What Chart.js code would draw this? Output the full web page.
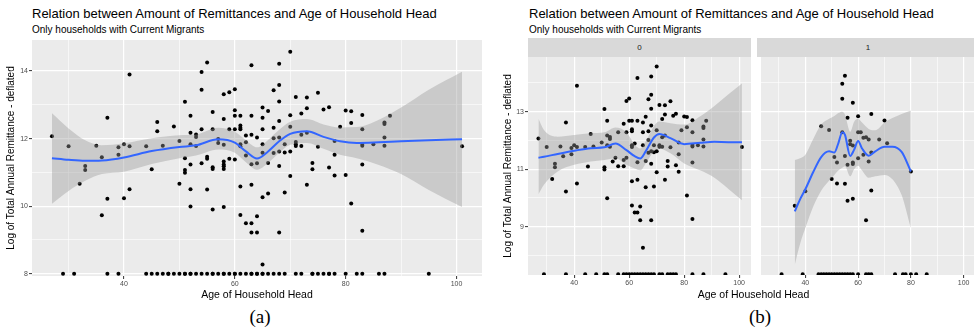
<!DOCTYPE html>
<html>
<head>
<meta charset="utf-8">
<script src="https://cdn.jsdelivr.net/npm/chart.js@4.4.1/dist/chart.umd.min.js"></script>
<style>
  html, body { margin: 0; padding: 0; overflow: hidden; background: #fff; }
  body { position: relative; width: 974px; height: 333px; font-family: "Liberation Sans", Arial, sans-serif; }
  .abs { position: absolute; white-space: nowrap; color: #000; }
  .title { font-size: 13px; line-height: 13px; }
  .subtitle { font-size: 10px; line-height: 10px; }
  .strip { background: #D9D9D9; font-size: 8px; color: #1A1A1A; display: flex; align-items: center; justify-content: center; }
  .xlab { font-size: 10.5px; line-height: 12px; text-align: center; }
  .caption { font-family: "Liberation Serif", serif; font-size: 19px; line-height: 20px; text-align: center; }
  canvas { position: absolute; }
</style>
</head>
<body>
<div class="abs title" style="left:32px; top:7px">Relation between Amount of Remittances and Age of Household Head</div>
<div class="abs subtitle" style="left:32px; top:25px">Only households with Current Migrants</div>
<div class="abs title" style="left:529px; top:7px">Relation between Amount of Remittances and Age of Household Head</div>
<div class="abs subtitle" style="left:529px; top:25px">Only households with Current Migrants</div>

<div class="abs strip" style="left:528px; top:38px; width:223px; height:19px">0</div>
<div class="abs strip" style="left:757px; top:38px; width:222px; height:19px">1</div>

<canvas id="chartA" width="490" height="258" style="left:0px; top:32px"></canvas>
<canvas id="chartB0" width="259" height="240" style="left:497px; top:49px"></canvas>
<canvas id="chartB1" width="222" height="240" style="left:757px; top:49px"></canvas>

<div class="abs xlab" style="left:32px; top:288px; width:450px">Age of Household Head</div>
<div class="abs xlab" style="left:528px; top:288px; width:451px">Age of Household Head</div>
<div class="abs caption" style="left:220px; top:307px; width:80px">(a)</div>
<div class="abs caption" style="left:720px; top:307px; width:80px">(b)</div>

<script>
// Households by facet group: [age of head, log of total annual remittance]
const points0 = [
    [27, 12.07], [30, 11.77], [32, 10.66], [33, 11.19], [33, 11.07], [35, 11.79], [36, 11.45],
    [37, 12.62], [37, 10.22], [39, 11.74], [39, 11.52], [40, 11.83], [41, 13.90], [41, 11.77],
    [41, 10.50], [44, 11.77], [45, 11.09], [46, 12.22], [47, 11.79], [50, 11.93], [51, 13.09],
    [51, 11.07], [51, 10.99], [52, 12.68], [52, 12.17], [52, 11.83], [52, 9.99], [53, 12.12],
    [53, 12.05], [53, 11.78], [54, 11.27], [55, 11.40], [56, 12.28], [56, 11.10], [58, 12.58],
    [58, 11.32], [58, 11.10], [59, 13.37], [59, 12.28], [59, 11.40], [60, 13.46], [60, 12.68],
    [61, 12.68], [61, 12.39], [61, 12.32], [61, 11.83], [61, 11.77], [61, 10.58], [61, 9.74],
    [62, 11.89], [62, 9.49], [63, 14.17], [63, 12.68], [63, 11.24], [63, 10.63], [63, 9.49],
    [64, 9.70], [64, 9.22], [65, 12.62], [65, 12.28], [65, 11.83], [65, 8.27], [66, 12.82],
    [66, 11.28], [66, 10.37], [67, 13.43], [67, 12.32], [67, 12.01], [67, 11.57], [68, 14.22],
    [68, 13.59], [68, 13.10], [68, 12.52], [68, 11.62], [68, 11.19], [68, 9.22], [69, 11.83],
    [69, 11.59], [69, 10.40], [70, 14.57], [70, 12.35], [70, 11.62], [70, 10.89], [71, 13.23],
    [71, 11.83], [71, 11.78], [72, 12.74], [72, 12.11], [72, 11.78], [73, 13.22], [73, 12.90],
    [73, 12.17], [73, 10.63], [74, 11.28], [74, 11.09], [75, 13.36], [75, 11.76], [76, 12.86],
    [77, 12.93], [77, 11.14], [78, 11.93], [78, 11.52], [78, 10.91], [79, 12.35], [80, 12.83],
    [81, 12.81], [81, 12.46], [81, 10.08], [83, 12.70], [83, 12.28], [83, 11.84], [83, 11.79],
    [83, 11.23], [83, 9.27], [85, 11.83], [87, 12.48], [87, 12.43], [87, 12.03], [87, 11.79],
    [88, 12.68], [101, 11.77]
];
const points1 = [
    [36, 9.73], [40, 10.23], [46, 12.49], [49, 12.36], [50, 10.66], [51, 11.42], [52, 11.23],
    [52, 10.50], [54, 13.97], [54, 13.45], [54, 12.28], [55, 14.25], [55, 11.46], [55, 10.49],
    [56, 12.79], [56, 11.15], [56, 9.90], [57, 11.99], [57, 11.87], [58, 13.31], [58, 11.82],
    [58, 11.23], [58, 11.18], [58, 9.97], [60, 12.84], [60, 12.28], [60, 11.38], [61, 12.28],
    [62, 12.09], [62, 11.50], [63, 12.11], [63, 9.22], [64, 12.03], [64, 11.27], [65, 12.92],
    [65, 11.58], [65, 10.26], [68, 12.03], [70, 12.69], [71, 11.90], [80, 10.92]
];

// Households drawn on the bottom edge of the panel
const floorAge0 = [29, 37, 44, 48, 51, 52, 56, 58, 59, 60, 61, 62, 63, 64, 65, 66, 67, 68, 69, 71, 72, 74, 75, 76, 77, 83, 87, 95];
const floorAge1 = [31, 39, 45, 46, 47, 48, 49, 50, 51, 52, 53, 54, 55, 56, 57, 58, 60, 63, 64, 65, 74, 77, 78, 80, 82, 86];
const floorA = 8;
const floorB = 7.35;

// Loess fit and confidence band, panel (a)
const smoothAgeA = [27, 30, 33, 36, 40, 45, 50, 53, 57, 60, 62, 64, 66, 68, 70, 73, 76, 79, 82, 86, 90, 95, 101];
const smoothFitA = [11.42, 11.37, 11.34, 11.35, 11.44, 11.63, 11.75, 11.80, 11.98, 11.88, 11.62, 11.41, 11.62, 11.92, 12.14, 12.22, 12.05, 11.92, 11.87, 11.89, 11.92, 11.95, 11.98];
const smoothLowA = [10.07, 10.45, 10.75, 10.95, 11.02, 11.25, 11.42, 11.50, 11.68, 11.58, 11.30, 11.08, 11.28, 11.58, 11.82, 11.87, 11.70, 11.52, 11.42, 11.22, 10.95, 10.48, 9.97];
const smoothHighA = [12.75, 12.30, 11.95, 11.80, 11.86, 12.01, 12.10, 12.12, 12.32, 12.20, 11.95, 11.74, 11.96, 12.26, 12.50, 12.58, 12.42, 12.33, 12.34, 12.56, 12.92, 13.45, 13.98];

// Loess fit and band, facet 0
const smoothAge0 = [27, 29, 34, 40, 46, 51, 55, 59, 62, 64, 66, 69, 71, 75, 80, 86, 91, 96, 101];
const smoothFit0 = [11.40, 11.43, 11.53, 11.64, 11.73, 11.76, 11.89, 11.66, 11.45, 11.37, 11.62, 12.10, 12.22, 12.08, 11.87, 11.92, 11.95, 11.94, 11.94];
const smoothLow0 = [10.13, 10.46, 10.92, 11.15, 11.27, 11.32, 11.38, 11.15, 11.02, 10.96, 11.20, 11.62, 11.72, 11.55, 11.20, 10.95, 10.70, 10.32, 9.92];
const smoothHigh0 = [12.75, 12.36, 12.13, 12.19, 12.25, 12.28, 12.45, 12.28, 11.85, 11.72, 11.96, 12.50, 12.66, 12.60, 12.55, 12.85, 13.20, 13.60, 13.98];

// Loess fit and band, facet 1
const smoothAge1 = [36, 38, 40, 43, 46, 49, 51, 52.5, 54, 55, 57, 58.5, 60, 61.5, 64, 66.5, 70, 73, 76.5, 80];
const smoothFit1 = [9.53, 9.95, 10.30, 10.90, 11.42, 11.62, 11.58, 11.90, 12.28, 12.20, 11.46, 11.68, 11.98, 11.72, 11.47, 11.62, 11.78, 11.78, 11.60, 10.92];
const smoothLow1 = [7.68, 8.40, 8.95, 9.70, 10.25, 10.60, 10.80, 10.95, 11.05, 11.10, 10.75, 11.00, 11.12, 10.95, 10.70, 10.75, 10.80, 10.65, 10.10, 8.95];
const smoothHigh1 = [11.32, 11.38, 11.50, 12.05, 12.55, 12.75, 12.85, 12.95, 13.00, 12.90, 12.30, 12.65, 12.75, 12.62, 12.40, 12.35, 12.62, 12.78, 12.92, 13.04];

const FONT = '"Liberation Sans", Arial, sans-serif';
const yTitle = 'Log of Total Annual Remittance - deflated';

function toXY(pairs) {
    return pairs.map(p => ({ x: p[0], y: p[1] }));
}
function floorXY(ages, y) {
    return ages.map(a => ({ x: a, y: y }));
}
function curveXY(ages, vals) {
    return ages.map((a, i) => ({ x: a, y: vals[i] }));
}

// grey ggplot panel behind the grid
const panelBg = {
    id: 'panelBg',
    beforeDraw(chart) {
        const { ctx, chartArea } = chart;
        ctx.save();
        ctx.fillStyle = '#EBEBEB';
        ctx.fillRect(chartArea.left, chartArea.top, chartArea.right - chartArea.left, chartArea.bottom - chartArea.top);
        ctx.restore();
    }
};

function makePanel(id, cfg) {
    const isMajorX = v => Math.round(v) % 20 === 0;
    const isMajorY = v => Math.abs(Math.round(v) % 2) === cfg.yMajorRem;

    new Chart(document.getElementById(id), {
        type: 'scatter',
        data: {
            datasets: [
                {
                    data: cfg.points,
                    pointRadius: 2,
                    pointBackgroundColor: '#000000',
                    pointBorderWidth: 0,
                    order: 3,
                    clip: 0
                },
                {
                    data: curveXY(cfg.sAge, cfg.sLow),
                    showLine: true,
                    pointRadius: 0,
                    borderWidth: 0,
                    borderColor: 'rgba(0,0,0,0)',
                    cubicInterpolationMode: 'monotone',
                    fill: false,
                    order: 2,
                    clip: 0
                },
                {
                    data: curveXY(cfg.sAge, cfg.sHigh),
                    showLine: true,
                    pointRadius: 0,
                    borderWidth: 0,
                    borderColor: 'rgba(0,0,0,0)',
                    backgroundColor: 'rgba(153,153,153,0.4)',
                    cubicInterpolationMode: 'monotone',
                    fill: '-1',
                    order: 1,
                    clip: 0
                },
                {
                    data: curveXY(cfg.sAge, cfg.sFit),
                    showLine: true,
                    pointRadius: 0,
                    borderColor: '#3366FF',
                    borderWidth: 2,
                    cubicInterpolationMode: 'monotone',
                    fill: false,
                    order: 0,
                    clip: 0
                }
            ]
        },
        options: {
            responsive: false,
            animation: false,
            devicePixelRatio: 1,
            layout: { padding: { top: 8, right: cfg.padRight, bottom: 0, left: 0 } },
            plugins: { legend: { display: false }, tooltip: { enabled: false } },
            scales: {
                x: {
                    type: 'linear',
                    min: cfg.xMin,
                    max: cfg.xMax,
                    afterFit: s => { s.height = 14; },
                    border: { display: false },
                    grid: {
                        color: '#FFFFFF',
                        lineWidth: c => (c.tick && isMajorX(c.tick.value) ? 1.2 : 0.6),
                        tickColor: c => (c.tick && isMajorX(c.tick.value) ? '#333333' : 'rgba(0,0,0,0)'),
                        tickLength: 3,
                        tickWidth: 1
                    },
                    ticks: {
                        stepSize: 10,
                        includeBounds: false,
                        autoSkip: false,
                        maxRotation: 0,
                        padding: 1,
                        color: '#4D4D4D',
                        font: { family: FONT, size: 7 },
                        callback: v => (isMajorX(v) ? v : '')
                    }
                },
                y: {
                    type: 'linear',
                    min: cfg.yMin,
                    max: cfg.yMax,
                    afterFit: s => { s.width = cfg.yWidth; },
                    border: { display: false },
                    title: {
                        display: cfg.showY,
                        text: yTitle,
                        color: '#000000',
                        font: { family: FONT, size: 10 },
                        padding: { top: 5, bottom: 0 }
                    },
                    grid: {
                        color: '#FFFFFF',
                        lineWidth: c => (c.tick && isMajorY(c.tick.value) ? 1.2 : 0.6),
                        tickColor: c => (c.tick && isMajorY(c.tick.value) ? '#333333' : 'rgba(0,0,0,0)'),
                        drawTicks: cfg.showY,
                        tickLength: 3,
                        tickWidth: 1
                    },
                    ticks: {
                        display: cfg.showY,
                        stepSize: 1,
                        includeBounds: false,
                        autoSkip: false,
                        padding: 1,
                        color: '#4D4D4D',
                        font: { family: FONT, size: 7 },
                        callback: v => (isMajorY(v) ? v : '')
                    }
                }
            }
        },
        plugins: [panelBg]
    });
}

document.addEventListener('DOMContentLoaded', function() {
    // (a) all households pooled
    const pointsA = toXY(points0.concat(points1))
        .concat(floorXY(floorAge0.concat(floorAge1), floorA));
    makePanel('chartA', {
        points: pointsA,
        sAge: smoothAgeA, sFit: smoothFitA, sLow: smoothLowA, sHigh: smoothHighA,
        xMin: 23.4, xMax: 104.6, yMin: 7.93, yMax: 14.92,
        yMajorRem: 0, yWidth: 32, padRight: 8, showY: true
    });

    // (b) facet 0
    makePanel('chartB0', {
        points: toXY(points0).concat(floorXY(floorAge0, floorB)),
        sAge: smoothAge0, sFit: smoothFit0, sLow: smoothLow0, sHigh: smoothHigh0,
        xMin: 23.2, xMax: 104.3, yMin: 7.32, yMax: 14.9,
        yMajorRem: 1, yWidth: 31, padRight: 5, showY: true
    });

    // (b) facet 1
    makePanel('chartB1', {
        points: toXY(points1).concat(floorXY(floorAge1, floorB)),
        sAge: smoothAge1, sFit: smoothFit1, sLow: smoothLow1, sHigh: smoothHigh1,
        xMin: 23.2, xMax: 104.3, yMin: 7.32, yMax: 14.9,
        yMajorRem: 1, yWidth: 0, padRight: 0, showY: false
    });
});
</script>
</body>
</html>
